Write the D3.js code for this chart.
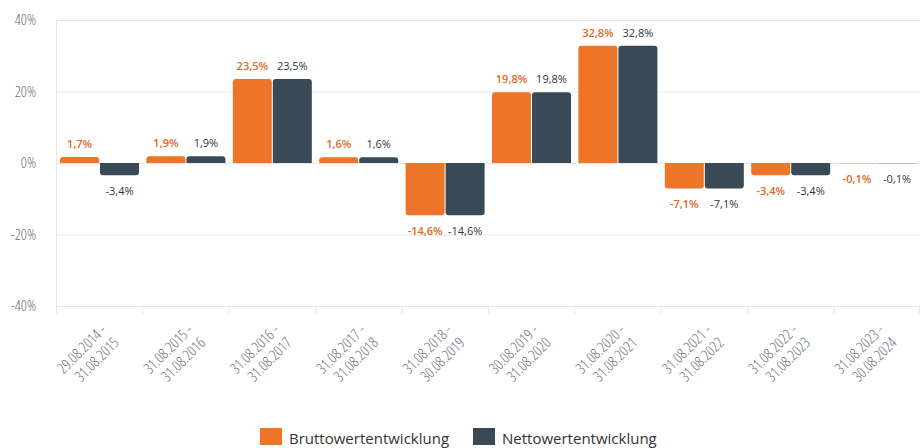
<!DOCTYPE html>
<html>
<head>
<meta charset="utf-8">
<script src="https://cdn.jsdelivr.net/npm/d3@7/dist/d3.min.js"></script>
<style>
	body { margin: 0; background: #fff; }
	svg { display: block; font-family: "Open Sans", sans-serif; }
	.grid line { stroke: #e6e6e6; stroke-width: 1; }
	.ylab, .xlab { fill: #66707a; font-size: 15px; font-weight: 300; font-stretch: 75%; }
	.val { font-size: 11px; text-anchor: middle; }
	.legend text { font-size: 15px; fill: #333; }
</style>
</head>
<body>
<div class="container"></div>
<script>
const periods = [
	"29.08.2014 - 31.08.2015",
	"31.08.2015 - 31.08.2016",
	"31.08.2016 - 31.08.2017",
	"31.08.2017 - 31.08.2018",
	"31.08.2018 - 30.08.2019",
	"30.08.2019 - 31.08.2020",
	"31.08.2020 - 31.08.2021",
	"31.08.2021 - 31.08.2022",
	"31.08.2022 - 31.08.2023",
	"31.08.2023 - 30.08.2024"
];
const brutto = [1.7, 1.9, 23.5, 1.6, -14.6, 19.8, 32.8, -7.1, -3.4, -0.1];
const netto = [-3.4, 1.9, 23.5, 1.6, -14.6, 19.8, 32.8, -7.1, -3.4, -0.1];
const seriesNames = ["Bruttowertentwicklung", "Nettowertentwicklung"];
const yTicks = [-40, -20, 0, 20, 40];

const colors = { Bruttowertentwicklung: "#ee7427", Nettowertentwicklung: "#394a56" };
const textColors = { Bruttowertentwicklung: "#e2691e", Nettowertentwicklung: "#2b3843" };

const width = 920, height = 448;
const plotLeft = 56, plotRight = 920, plotTop = 20, plotBottom = 306;

const svg = d3.select(".container").append("svg")
	.attr("width", width)
	.attr("height", height);

const x = d3.scaleBand().domain(periods).range([plotLeft, plotRight]);
const x1 = d3.scaleBand().domain(seriesNames).range([4, x.bandwidth() - 3.4]).paddingInner(0.025);
const y = d3.scaleLinear().domain([-40, 40]).range([plotBottom, plotTop]);

const locale = d3.formatLocale({ decimal: ",", thousands: ".", grouping: [3], currency: ["", " €"], minus: "-" });
const fmt = (v) => locale.format(".1f")(v) + "%";

// grid
const grid = svg.append("g").attr("class", "grid");
grid.selectAll(".h")
	.data(yTicks).enter()
	.append("line")
		.attr("x1", plotLeft).attr("x2", plotRight)
		.attr("y1", (d) => y(d) + 0.5).attr("y2", (d) => y(d) + 0.5);
grid.append("line")
	.attr("x1", plotLeft + 0.5).attr("x2", plotLeft + 0.5)
	.attr("y1", plotTop).attr("y2", plotBottom);

// tick marks between categories
const bounds = periods.map((p) => x(p)).concat([x.range()[1]]);
grid.selectAll(".tick")
	.data(bounds).enter()
	.append("line")
		.attr("x1", (d) => Math.min(d, plotRight - 1) + 0.5).attr("x2", (d) => Math.min(d, plotRight - 1) + 0.5)
		.attr("y1", plotBottom).attr("y2", plotBottom + 8);

// y labels
svg.selectAll(".ylab")
	.data(yTicks).enter()
	.append("text")
		.attr("class", "ylab")
		.attr("x", 36)
		.attr("y", (d) => y(d))
		.attr("dy", "0.35em")
		.attr("text-anchor", "end")
		.text((d) => d + "%");

// x labels
const xl = svg.selectAll(".xlab")
	.data(periods).enter()
	.append("text")
		.attr("class", "xlab")
		.attr("text-anchor", "end")
		.attr("transform", (d) => `translate(${x(d) + x.bandwidth() / 2 + 8},${plotBottom + 25}) rotate(-45)`);
xl.selectAll("tspan")
	.data((d) => { const p = d.split(" - "); return [p[0] + " -", p[1]]; }).enter()
	.append("tspan")
		.attr("x", 0)
		.attr("y", (d, i) => i * 18)
		.text((d) => d);

// bars
const rows = periods.map((p, i) => ({ period: p, values: [
	{ key: seriesNames[0], value: brutto[i] },
	{ key: seriesNames[1], value: netto[i] }
] }));

const groups = svg.selectAll(".group")
	.data(rows).enter()
	.append("g")
		.attr("class", "group")
		.attr("transform", (d) => `translate(${x(d.period)},0)`);

groups.selectAll("path")
	.data((d) => d.values).enter()
	.append("path")
		.attr("fill", (d) => colors[d.key])
		.attr("d", (d) => {
			const x0 = x1(d.key), w = x1.bandwidth();
			const y0 = y(0), yv = y(d.value);
			const h = Math.abs(yv - y0);
			const r = Math.min(3, h);
			if (d.value >= 0) {
				return `M${x0},${y0}V${yv + r}Q${x0},${yv} ${x0 + r},${yv}H${x0 + w - r}Q${x0 + w},${yv} ${x0 + w},${yv + r}V${y0}Z`;
			}
			return `M${x0},${y0}V${yv - r}Q${x0},${yv} ${x0 + r},${yv}H${x0 + w - r}Q${x0 + w},${yv} ${x0 + w},${yv - r}V${y0}Z`;
		});

groups.selectAll(".val")
	.data((d) => d.values).enter()
	.append("text")
		.attr("class", "val")
		.attr("x", (d) => x1(d.key) + x1.bandwidth() / 2)
		.attr("y", (d) => d.value >= 0 ? y(d.value) - 9 : y(d.value) + 20)
		.attr("fill", (d) => textColors[d.key])
		.attr("font-weight", (d) => d.key === seriesNames[0] ? 600 : 400)
		.text((d) => fmt(d.value));

// legend
const legend = svg.append("g").attr("class", "legend");
const lgX = [260, 473];
const items = legend.selectAll("g")
	.data(seriesNames).enter()
	.append("g")
		.attr("transform", (d, i) => `translate(${lgX[i]},428)`);
items.append("rect")
	.attr("width", 22).attr("height", 17)
	.attr("fill", (d) => colors[d]);
items.append("text")
	.attr("x", 29).attr("y", 16)
	.text((d) => d);
</script>
</body>
</html>
